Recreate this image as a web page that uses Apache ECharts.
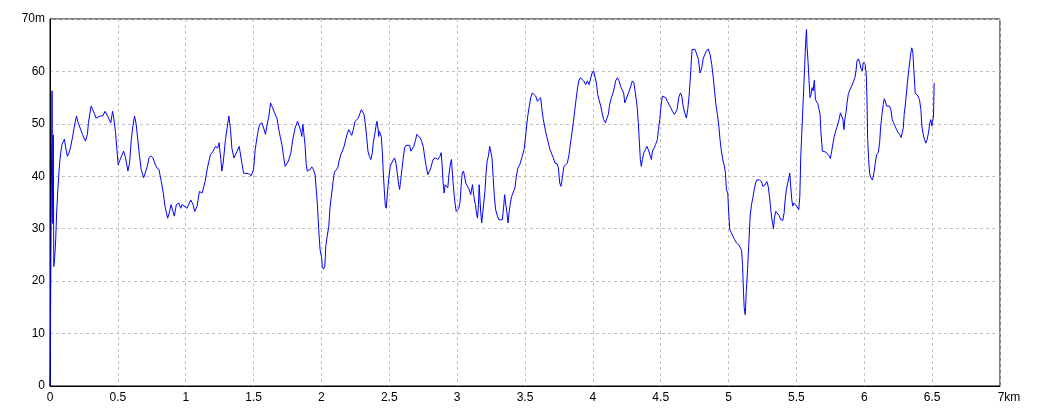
<!DOCTYPE html>
<html>
<head>
<meta charset="utf-8">
<script src="https://cdn.jsdelivr.net/npm/echarts@6/dist/echarts.min.js"></script>
<style>
  html, body { margin: 0; padding: 0; background: #fff; }
  #box { width: 1040px; height: 416px; }
</style>
</head>
<body>
<div id="box"></div>
<script>
// distance along the track (km)
var dist = [
  0, 0.003, 0.015, 0.020, 0.024, 0.028, 0.035, 0.042, 0.049, 0.057, 0.064, 0.071, 0.079, 0.089,
  0.099, 0.106, 0.116, 0.128, 0.140, 0.153, 0.167, 0.180, 0.195, 0.204, 0.222, 0.239, 0.261, 0.276,
  0.283, 0.303, 0.320, 0.340, 0.369, 0.389, 0.406, 0.424, 0.448, 0.461, 0.470, 0.483, 0.493, 0.502,
  0.517, 0.542, 0.557, 0.574, 0.586, 0.599, 0.611, 0.623, 0.635, 0.648, 0.660, 0.672, 0.690, 0.704,
  0.717, 0.729, 0.744, 0.759, 0.776, 0.788, 0.803, 0.820, 0.835, 0.847, 0.867, 0.879, 0.892, 0.916,
  0.931, 0.948, 0.963, 0.973, 0.985, 1.010, 1.037, 1.054, 1.067, 1.084, 1.101, 1.121, 1.143, 1.160,
  1.182, 1.202, 1.219, 1.236, 1.246, 1.259, 1.266, 1.276, 1.293, 1.305, 1.318, 1.330, 1.340, 1.355,
  1.367, 1.379, 1.394,
  1.414, 1.426, 1.439, 1.463, 1.483, 1.500, 1.512, 1.529, 1.544, 1.561, 1.574, 1.588, 1.598, 1.613,
  1.625, 1.640, 1.654, 1.672, 1.684, 1.696, 1.708, 1.721, 1.733, 1.745, 1.757, 1.775, 1.789, 1.806,
  1.824, 1.838, 1.848, 1.855, 1.863, 1.870, 1.880, 1.887, 1.895, 1.904, 1.917, 1.929, 1.941, 1.953,
  1.961, 1.971, 1.980, 1.990, 2.000, 2.007, 2.015, 2.025, 2.032, 2.042, 2.054, 2.064, 2.076, 2.086,
  2.096, 2.108, 2.120, 2.130, 2.142, 2.154, 2.167, 2.179, 2.189, 2.201, 2.211, 2.223, 2.235, 2.248,
  2.260, 2.272, 2.284, 2.294, 2.304, 2.314, 2.324, 2.333, 2.343, 2.353, 2.365, 2.375, 2.382, 2.395,
  2.404, 2.409, 2.417, 2.422, 2.426, 2.434, 2.441, 2.449, 2.456, 2.463, 2.471, 2.478, 2.488, 2.498,
  2.507, 2.517, 2.529, 2.539, 2.549, 2.559, 2.569, 2.576, 2.583, 2.593, 2.603, 2.613, 2.623, 2.635,
  2.650, 2.659, 2.672, 2.681, 2.694, 2.703, 2.716, 2.728, 2.738, 2.750, 2.762, 2.772, 2.784, 2.797,
  2.806, 2.819, 2.828, 2.843, 2.858, 2.873, 2.882, 2.890, 2.897, 2.904, 2.912, 2.922, 2.931, 2.941,
  2.951, 2.958, 2.966, 2.973, 2.983, 2.993, 3.002, 3.012, 3.022, 3.029, 3.037, 3.047, 3.054, 3.064,
  3.076, 3.088, 3.100, 3.113, 3.120, 3.127, 3.135, 3.142, 3.150, 3.157, 3.162, 3.167, 3.174, 3.181,
  3.189, 3.196, 3.206, 3.213, 3.221, 3.230, 3.240, 3.250, 3.257, 3.265, 3.275, 3.284, 3.297, 3.309,
  3.321, 3.333, 3.343, 3.350, 3.357, 3.367, 3.375, 3.382, 3.392, 3.402, 3.416, 3.426, 3.436, 3.448,
  3.461, 3.471, 3.480, 3.493, 3.502, 3.512, 3.522, 3.532, 3.542, 3.554, 3.566, 3.579, 3.591, 3.603,
  3.615, 3.625, 3.635, 3.647, 3.660, 3.672, 3.684, 3.697, 3.709, 3.721, 3.736, 3.746, 3.756, 3.765,
  3.775, 3.787, 3.800, 3.812, 3.824, 3.834, 3.846, 3.856, 3.866, 3.876, 3.886, 3.896, 3.908, 3.920,
  3.932, 3.947, 3.959, 3.972, 3.982, 3.994, 4.006, 4.018, 4.026, 4.036, 4.045, 4.058, 4.068, 4.080,
  4.092, 4.104, 4.114, 4.124, 4.136, 4.149, 4.158, 4.168, 4.181, 4.193, 4.205, 4.217, 4.227, 4.235,
  4.244, 4.254, 4.267, 4.279, 4.291, 4.303, 4.316, 4.326, 4.335, 4.343, 4.350, 4.357, 4.365, 4.375,
  4.387, 4.399, 4.412, 4.424, 4.431, 4.439, 4.451, 4.463, 4.475, 4.483, 4.493, 4.502, 4.512, 4.525,
  4.537, 4.549, 4.561, 4.574, 4.586, 4.601, 4.611, 4.620, 4.633, 4.645, 4.655, 4.665, 4.677, 4.689,
  4.699, 4.709, 4.719, 4.731, 4.741, 4.753, 4.765, 4.778, 4.790, 4.802, 4.812, 4.824, 4.837, 4.851,
  4.864, 4.876, 4.886, 4.898, 4.908, 4.918, 4.928, 4.937, 4.947, 4.957, 4.967, 4.977, 4.984, 4.994,
  5.001, 5.009, 5.021, 5.033, 5.045, 5.058,
  5.076, 5.086, 5.096, 5.103, 5.110, 5.115, 5.123, 5.130, 5.140, 5.150, 5.159, 5.169, 5.179, 5.189,
  5.199, 5.208, 5.228, 5.243, 5.252, 5.267, 5.282, 5.292, 5.301, 5.309, 5.316, 5.324, 5.331, 5.338,
  5.348, 5.360, 5.373, 5.385, 5.400, 5.409, 5.417, 5.426, 5.436, 5.444, 5.451, 5.458, 5.466, 5.473,
  5.480, 5.490, 5.502, 5.517, 5.525, 5.532, 5.539, 5.547, 5.554, 5.561, 5.569, 5.574, 5.578, 5.586,
  5.593, 5.600, 5.608, 5.615, 5.623, 5.632, 5.640, 5.650, 5.657, 5.667, 5.674, 5.681, 5.691, 5.703,
  5.718, 5.730, 5.740, 5.750, 5.760, 5.770, 5.779, 5.789, 5.801, 5.814, 5.824, 5.833, 5.843, 5.850,
  5.858, 5.865, 5.873, 5.882, 5.895, 5.907, 5.919, 5.931, 5.939, 5.946, 5.956, 5.966, 5.975, 5.985,
  5.993, 6.000, 6.007, 6.015, 6.020, 6.025, 6.032, 6.039, 6.049, 6.061, 6.071, 6.081, 6.091, 6.103,
  6.113, 6.120, 6.130, 6.140, 6.147, 6.154, 6.164, 6.176, 6.186, 6.196, 6.206, 6.216, 6.228, 6.238,
  6.250, 6.262, 6.272, 6.279, 6.287, 6.294, 6.304, 6.311, 6.319, 6.328, 6.336, 6.343, 6.350, 6.358,
  6.365, 6.375, 6.385, 6.395, 6.407, 6.417, 6.424, 6.434, 6.444, 6.453, 6.463, 6.473, 6.483, 6.490,
  6.498, 6.502, 6.510, 6.515
];

// elevation (m)
var elev = [
  0, 10.4, 56.3, 31.0, 47.9, 22.8, 24.7, 27.9, 33.0, 37.1, 40.0, 42.5, 44.5, 46.1,
  46.1, 47.1, 45.4, 43.8, 44.5, 45.7, 47.6, 49.6, 51.5, 50.5, 49.2, 48.0, 46.7, 48.0,
  50.2, 53.4, 52.4, 51.1, 51.5, 51.5, 52.4, 51.5, 50.2, 52.4, 51.1, 48.3, 45.1, 42.2,
  43.2, 44.8, 43.5, 41.0, 42.5, 47.0, 49.6, 51.5, 49.9, 46.7, 43.8, 41.3, 39.7, 39.7,
  41.9, 43.5, 43.9, 43.5, 42.2, 41.6, 41.3, 39.0, 36.8, 34.3, 32.0, 33.0, 34.6, 32.4,
  34.6, 34.9, 33.9, 34.6, 34.3, 33.9, 35.5, 34.6, 33.3, 34.3, 37.1, 36.8, 39.0, 41.6,
  44.1, 44.8, 45.7, 45.4, 46.4, 43.2, 41.0, 42.5, 47.0, 49.2, 51.5, 48.9, 45.4, 43.5,
  43.2, 44.8, 45.7,
  42.5, 40.6, 40.5, 40.5, 40.1, 41.3, 45.1, 48.0, 49.9, 50.2, 49.2, 48.0, 49.6, 51.5,
  54.0, 53.1, 52.1, 51.1, 49.2, 47.6, 46.1, 43.8, 41.9, 41.6, 42.9, 44.5, 47.0, 49.2,
  50.5, 50.5, 48.6, 47.6, 49.9, 48.3, 45.7, 42.5, 41.0, 40.8, 41.3, 41.8, 41.3, 40.3,
  37.8, 34.3, 29.8, 26.0, 24.7, 22.8, 22.3, 22.8, 26.6, 28.5, 30.4, 34.3, 36.8, 39.0,
  40.8, 41.0, 41.6, 42.9, 44.1, 44.8, 45.7, 47.0, 48.0, 48.9, 49.2, 47.8, 48.9, 50.5,
  50.2, 51.1, 52.0, 52.7, 52.8, 51.8, 49.9, 47.6, 44.8, 43.8, 43.2, 44.5, 46.4, 48.3,
  49.9, 50.5, 49.2, 47.6, 48.6, 48.6, 47.6, 44.5, 40.6, 37.5, 34.3, 33.9, 37.5, 40.0,
  41.9, 42.5, 43.1, 43.5, 42.5, 40.6, 38.4, 37.5, 39.0, 41.3, 43.5, 45.4, 45.9, 46.1,
  45.9, 44.8, 44.5, 45.7, 47.0, 48.0, 48.1, 47.3, 46.7, 45.7, 43.5, 41.9, 40.3, 40.0,
  41.6, 42.9, 43.4, 43.5, 43.2, 43.8, 44.5, 41.9, 38.7, 36.8, 38.4, 38.7, 37.8, 40.6,
  42.5, 43.2, 40.3, 37.8, 35.2, 33.3, 33.0, 33.9, 35.2, 38.1, 40.6, 41.0, 40.0, 38.7,
  38.1, 37.5, 36.5, 38.4, 36.8, 35.5, 34.6, 33.0, 32.0, 34.6, 38.4, 36.2, 33.0, 31.1,
  33.0, 34.9, 37.5, 40.6, 42.9, 43.8, 45.7, 45.4, 43.5, 40.0, 35.9, 33.6, 32.4, 31.7,
  32.0, 31.7, 34.3, 36.5, 34.9, 33.0, 31.1, 33.0, 34.9, 36.2, 36.5, 37.8, 40.0, 41.6,
  42.2, 42.5, 43.8, 45.1, 47.0, 49.6, 51.8, 53.4, 55.0, 55.9, 56.1, 55.3, 54.3, 54.6,
  55.0, 52.7, 50.8, 49.2, 47.6, 46.4, 45.1, 44.8, 43.5, 42.5, 42.4, 41.6, 38.7, 38.1,
  39.7, 41.9, 42.2, 42.5, 44.1, 46.1, 48.3, 50.2, 52.4, 54.6, 56.6, 58.2, 58.8, 58.7,
  58.2, 57.5, 58.2, 57.5, 58.5, 59.7, 60.1, 60.1, 57.8, 55.6, 54.6, 53.4, 52.1, 50.8,
  50.2, 50.3, 51.8, 53.7, 55.0, 55.9, 56.9, 58.2, 58.8, 58.2, 57.1, 57.4, 55.9, 54.0,
  54.6, 55.3, 56.2, 57.2, 58.2, 57.8, 57.5, 53.4, 50.2, 46.4, 43.2, 41.9, 43.2, 44.5,
  45.1, 45.7, 44.8, 43.8, 43.2, 44.8, 45.4, 46.1, 47.0, 48.9, 50.8, 53.4, 55.3, 55.2,
  55.0, 54.3, 53.7, 53.1, 52.4, 51.8, 51.5, 52.7, 55.0, 55.9, 55.3, 53.4, 52.1, 51.1,
  52.7, 55.3, 59.1, 64.2, 64.5, 64.2, 64.2, 62.3, 59.7, 60.6, 62.3, 63.2, 63.9, 64.3,
  63.2, 61.3, 59.1, 55.9, 53.4, 51.8, 49.6, 47.0, 44.8, 43.2, 42.2, 40.6, 37.5, 36.8,
  33.0, 29.8, 29.2, 28.5, 27.9, 27.3,
  26.9, 27.2, 25.9, 23.0, 17.8, 14.9, 13.6, 17.8, 22.2, 27.6, 32.4, 34.6, 35.9, 37.5,
  38.7, 39.3, 39.3, 39.0, 38.1, 38.3, 39.0, 38.1, 36.2, 34.3, 32.4, 31.1, 30.0, 32.1,
  33.3, 33.0, 32.5, 31.7, 31.6, 33.0, 35.5, 37.5, 38.7, 39.7, 40.6, 38.1, 35.5, 34.3,
  34.9, 35.0, 34.3, 33.6, 36.2, 43.8, 48.0, 52.7, 56.9, 61.3, 66.1, 68.0, 64.9, 61.7,
  58.2, 55.0, 55.6, 56.9, 56.3, 58.3, 54.6, 54.7, 53.9, 52.7, 51.8, 48.3, 44.8, 44.6,
  44.6, 44.4, 43.9, 43.4, 44.8, 46.4, 47.6, 48.6, 49.6, 50.8, 52.1, 51.8, 50.8, 48.9,
  51.1, 52.1, 54.0, 55.6, 56.6, 57.2, 58.0, 58.8, 60.1, 62.0, 62.4, 61.7, 60.6, 60.1,
  61.7, 61.9, 61.3, 59.1, 54.6, 47.0, 43.2, 40.6, 39.7, 39.3, 40.6, 42.5, 44.1, 44.5,
  46.4, 49.2, 51.8, 53.7, 54.8, 54.4, 53.4, 53.7, 53.4, 52.7, 50.8, 50.2, 50.2, 48.9,
  48.3, 47.9, 47.4, 48.3, 49.2, 51.8, 54.0, 55.9, 58.2, 60.4, 62.0, 63.6, 64.5, 63.6,
  60.4, 55.9, 55.9, 55.3, 54.6, 52.7, 49.6, 48.0, 47.0, 46.3, 47.0, 48.3, 50.2, 50.8,
  49.6, 50.2, 51.5, 57.8
];

// axis ranges / tick steps
var xMax = 7, xStep = 0.5;
var yMax = 70, yStep = 10;

var font = 'Arial, "Liberation Sans", sans-serif';

var chart = echarts.init(document.getElementById('box'));
chart.setOption({
  animation: false,
  backgroundColor: '#fff',
  grid: {
    left: 50, top: 19, width: 950, height: 367,
    show: true, borderColor: '#000', borderWidth: 1
  },
  xAxis: {
    type: 'value', min: 0, max: xMax, interval: xStep,
    axisLine: { lineStyle: { color: '#000', width: 1 } },
    axisTick: { show: false },
    splitLine: { lineStyle: { color: '#c0c0c0', type: [3, 3] } },
    axisLabel: {
      color: '#000', fontSize: 12, fontFamily: font, margin: 6,
      formatter: function (v) { return v === xMax ? '{k|' + v + 'km}' : String(v); },
      rich: { k: { color: '#000', fontSize: 12, fontFamily: font, padding: [0, 0, 0, 18] } }
    }
  },
  yAxis: {
    type: 'value', min: 0, max: yMax, interval: yStep,
    axisLine: { show: true, lineStyle: { color: '#000', width: 1 } },
    axisTick: { show: false },
    splitLine: { lineStyle: { color: '#c0c0c0', type: [3, 3] } },
    axisLabel: {
      color: '#000', fontSize: 12, fontFamily: font, margin: 5,
      formatter: function (v) { return v === yMax ? v + 'm' : String(v); }
    }
  },
  series: [{
    type: 'line',
    data: dist.map(function (d, i) { return [d, elev[i]]; }),
    showSymbol: false,
    lineStyle: { color: '#0000ff', width: 1 },
    z: 3
  }]
});
</script>
</body>
</html>
